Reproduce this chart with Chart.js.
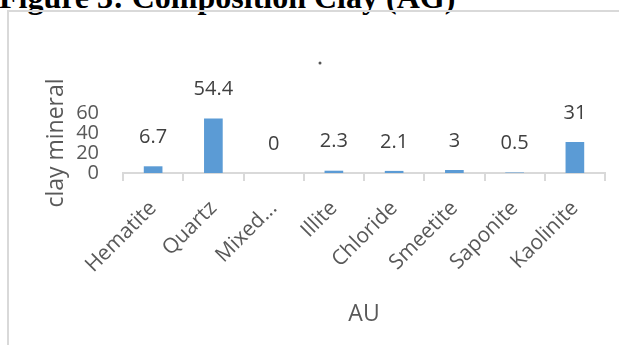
<!DOCTYPE html>
<html>
<head>
<meta charset="utf-8">
<script src="https://cdn.jsdelivr.net/npm/chart.js@4/dist/chart.umd.min.js"></script>
<style>
  html, body { margin: 0; padding: 0; background: #ffffff; overflow: hidden; }
  body { width: 619px; height: 345px; position: relative; }
  #heading {
    position: absolute; left: -1px; top: -19px; margin: 0;
    font-family: "Liberation Serif", "Times New Roman", serif;
    font-weight: bold; font-size: 32px; line-height: 32px;
    color: #000000; white-space: nowrap;
  }
  #frame {
    position: absolute; left: 7px; top: 10px; width: 700px; height: 400px;
    border: 2px solid #d9d9d9; box-sizing: border-box;
  }
  #chart { position: absolute; left: 0; top: 0; }
</style>
</head>
<body>
<div id="heading">Figure 3: Composition Clay (AG)</div>
<div id="frame"></div>
<canvas id="chart" width="619" height="345"></canvas>
<script>
// Clay mineral composition
const minerals = ["Hematite", "Quartz", "Mixed...", "Illite", "Chloride", "Smeetite", "Saponite", "Kaolinite"];
const amounts = [6.7, 54.4, 0, 2.3, 2.1, 3, 0.5, 31];
const yTicks = [0, 20, 40, 60];

const textFont = "'Open Sans', 'Noto Sans', sans-serif";

// Value labels above each bar
const valueLabels = {
  id: "valueLabels",
  afterDatasetsDraw(chart) {
    const ctx = chart.ctx;
    const meta = chart.getDatasetMeta(0);
    ctx.save();
    ctx.font = "20px " + textFont;
    ctx.fillStyle = "#404040";
    ctx.textAlign = "center";
    ctx.textBaseline = "middle";
    meta.data.forEach((bar, i) => {
      ctx.fillText(String(amounts[i]), bar.x, bar.y - 29);
    });
    ctx.restore();
  }
};

// Small stray mark above the plot
const strayDot = {
  id: "strayDot",
  afterDraw(chart) {
    const ctx = chart.ctx;
    ctx.save();
    ctx.fillStyle = "#555555";
    ctx.beginPath();
    ctx.arc(320, 63, 1.5, 0, Math.PI * 2);
    ctx.fill();
    ctx.restore();
  }
};

new Chart(document.getElementById("chart"), {
  type: "bar",
  data: {
    labels: minerals,
    datasets: [{
      data: amounts,
      backgroundColor: "#5b9bd5",
      borderWidth: 0,
      barPercentage: 0.31,
      categoryPercentage: 1.0
    }]
  },
  options: {
    responsive: false,
    animation: false,
    devicePixelRatio: 1,
    layout: { padding: { left: 43, top: 113, right: 14, bottom: 17 } },
    plugins: {
      legend: { display: false },
      tooltip: { enabled: false },
      title: { display: false }
    },
    scales: {
      x: {
        afterFit(scale) { scale.height = 155; },
        grid: {
          offset: true,
          drawOnChartArea: false,
          drawTicks: true,
          tickLength: 8,
          color: "#d9d9d9",
          lineWidth: 2
        },
        border: { display: true, color: "#d9d9d9", width: 2 },
        ticks: {
          autoSkip: false,
          minRotation: 45,
          maxRotation: 45,
          padding: 15,
          color: "#595959",
          font: { family: textFont, size: 21 }
        },
        title: {
          display: true,
          text: "AU",
          color: "#595959",
          padding: 0,
          font: { family: textFont, size: 23 }
        }
      },
      y: {
        min: 0,
        max: 60,
        afterFit(scale) { scale.width = 80; },
        afterBuildTicks(scale) { scale.ticks = yTicks.map(v => ({ value: v })); },
        grid: { display: false },
        border: { display: false },
        ticks: {
          autoSkip: false,
          padding: 16,
          color: "#595959",
          font: { family: textFont, size: 20 }
        },
        title: {
          display: true,
          text: "clay mineral",
          color: "#595959",
          padding: 0,
          font: { family: textFont, size: 23 }
        }
      }
    }
  },
  plugins: [valueLabels, strayDot]
});
</script>
</body>
</html>
